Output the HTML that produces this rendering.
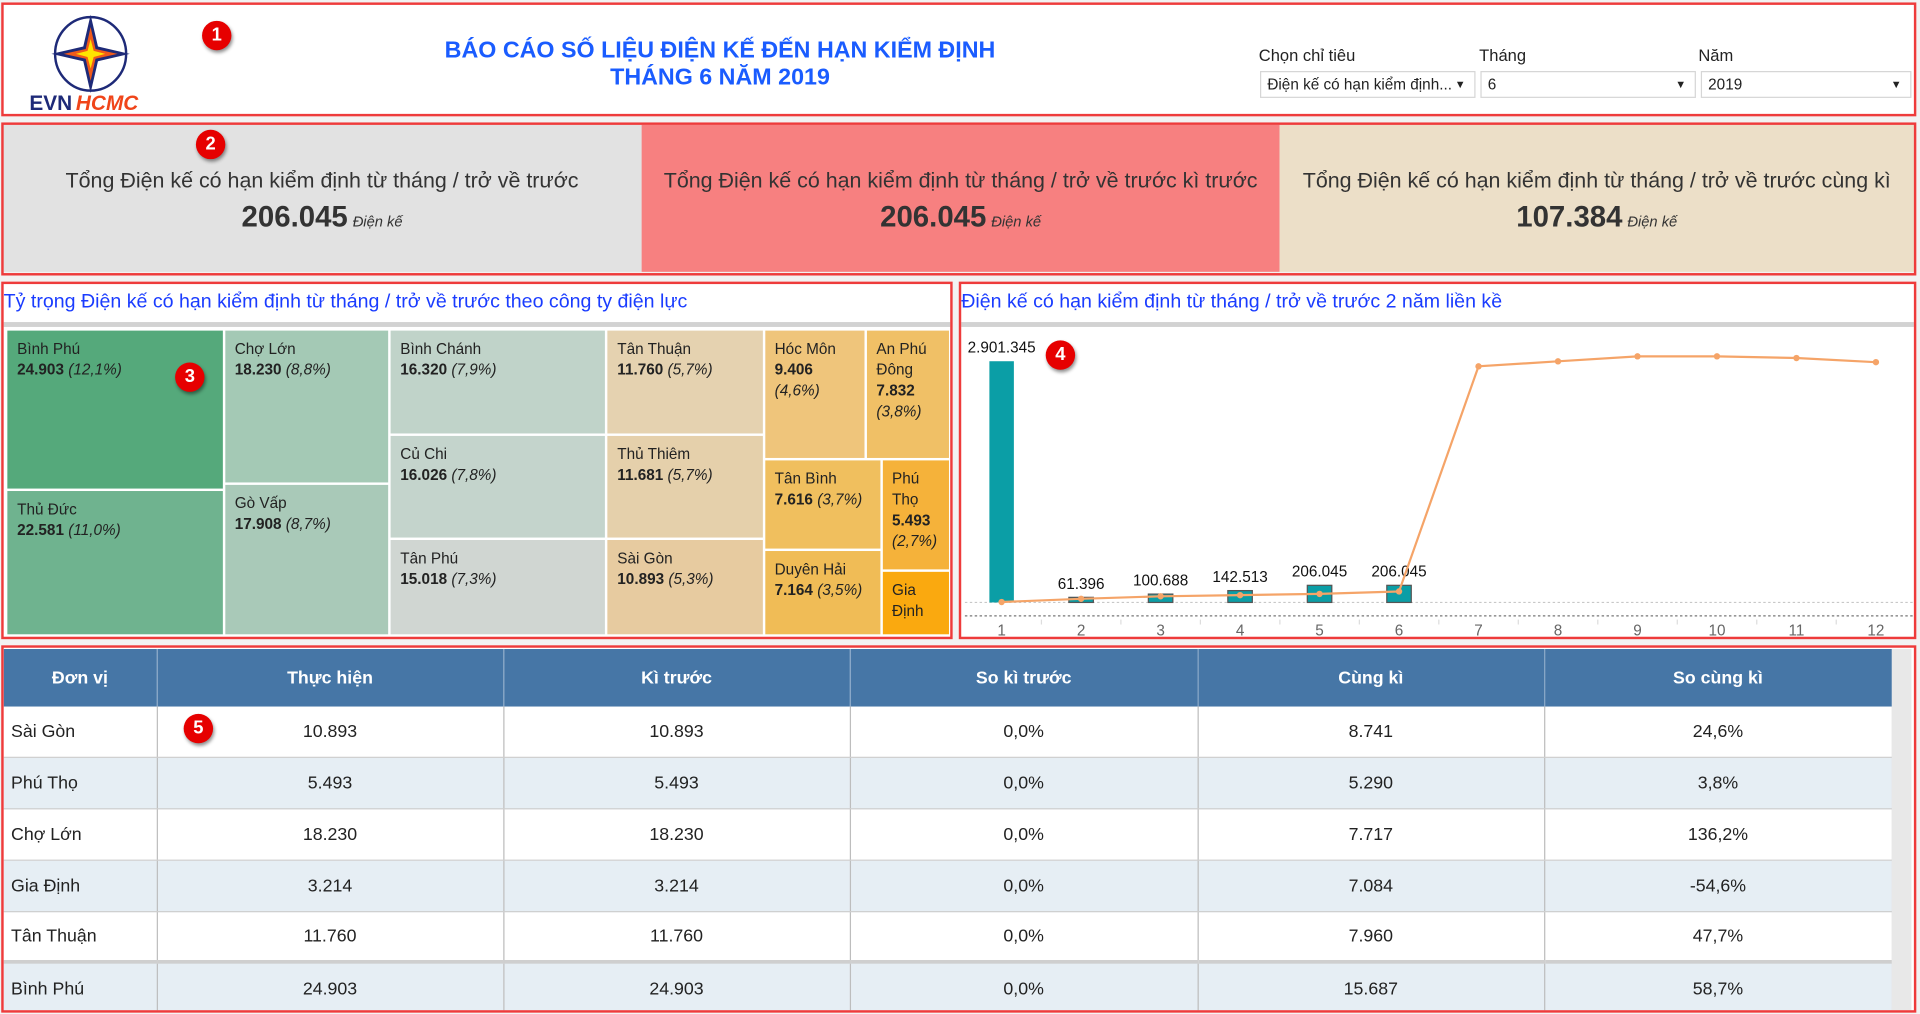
<!DOCTYPE html>
<html><head><meta charset="utf-8">
<style>
html,body{margin:0;padding:0;width:1920px;height:1014px;overflow:hidden;background:#fff;font-family:"Liberation Sans",Arial,sans-serif;}
#root{position:absolute;left:0;top:0;width:1568px;height:828px;transform:scale(1.22449);transform-origin:0 0;background:#f2f2f2;}
.abs{position:absolute;}
.redbox{position:absolute;border:2px solid #ee3b3b;box-sizing:border-box;}
.badge{position:absolute;width:24px;height:24px;border-radius:50%;background:#e60000;color:#fff;font-weight:bold;font-size:15px;text-align:center;line-height:24px;box-shadow:1px 2px 3px rgba(0,0,0,.45);z-index:5;}
.kpi{position:absolute;top:102px;height:120px;text-align:center;color:#333;}
.kpi .t{position:absolute;left:0;right:0;top:35px;font-size:17.5px;}
.kpi .v{position:absolute;left:0;right:0;top:62px;font-size:24px;font-weight:bold;color:#333;}
.kpi .v i{font-size:12px;font-weight:normal;margin-left:4px;}
.lbl{position:absolute;font-size:13.5px;color:#222;}
.dd{position:absolute;top:58px;height:22px;border:1px solid #d6d6d6;background:#fff;box-sizing:border-box;font-size:12.5px;line-height:20px;padding-left:5px;color:#222;}
.dd .ar{position:absolute;right:7px;top:0;font-size:9px;}
.ptitle{position:absolute;font-size:16px;color:#1a3cff;white-space:nowrap;}
.cell{position:absolute;box-sizing:border-box;padding:7px 0 0 8px;font-size:12.5px;line-height:17px;color:#222;overflow:hidden;}
#tblwrap{position:absolute;left:3px;top:530px;width:1542px;height:295px;overflow:hidden;}
table{border-collapse:collapse;table-layout:fixed;width:1542px;font-size:14.5px;}
th{background:#4676a6;color:#fff;font-weight:bold;height:47px;padding:0;border-right:1px solid #8aa8c8;font-size:14.5px;}
td{height:41px;padding:0;border-right:1px solid #bdbdbd;border-bottom:1px solid #cfcfcf;text-align:center;color:#222;}
td:first-child{text-align:left;padding-left:6px;}
tr.alt td{background:#e6eef4;}
</style></head>
<body>
<div id="root">
  <div class="abs" style="left:1px;top:2px;width:1564px;height:92px;background:#fff;"></div>
  <svg class="abs" style="left:20px;top:8px" width="110" height="90">
    <ellipse cx="54" cy="36" rx="29" ry="30" fill="none" stroke="#1e2a78" stroke-width="2"/>
    <polygon points="54,4 60,30 86,36 60,42 54,68 48,42 22,36 48,30" fill="#1e2a78"/>
    <polygon points="54,14 58,32 76,36 58,40 54,58 50,40 32,36 50,32" fill="#f05a1a"/>
    <polygon points="54,24 56.5,33.5 66,36 56.5,38.5 54,48 51.5,38.5 42,36 51.5,33.5" fill="#ffe400"/>
    <text x="4" y="82" font-family="Liberation Sans" font-weight="bold" font-size="17" fill="#1e2a78">EVN</text>
    <text x="42" y="82" font-family="Liberation Sans" font-weight="bold" font-style="italic" font-size="17" fill="#f0451a">HCMC</text>
  </svg>
  <div class="abs" style="left:300px;width:576px;top:31px;text-align:center;font-size:19px;font-weight:bold;color:#1a5cff;line-height:22px;">BÁO CÁO SỐ LIỆU ĐIỆN KẾ ĐẾN HẠN KIỂM ĐỊNH<br>THÁNG 6 NĂM 2019</div>
  <div class="lbl" style="left:1028px;top:38px;">Chọn chỉ tiêu</div>
  <div class="lbl" style="left:1208px;top:38px;">Tháng</div>
  <div class="lbl" style="left:1387px;top:38px;">Năm</div>
  <div class="dd" style="left:1029px;width:176px;">Điện kế có hạn kiểm định...<span class="ar">▼</span></div>
  <div class="dd" style="left:1209px;width:176px;">6<span class="ar">▼</span></div>
  <div class="dd" style="left:1389px;width:172px;">2019<span class="ar">▼</span></div>
  <div class="redbox" style="left:1px;top:2px;width:1564px;height:93px;"></div>

  <div class="kpi" style="left:2px;width:522px;background:#e2e2e2;"><div class="t">Tổng Điện kế có hạn kiểm định từ tháng / trở về trước</div><div class="v">206.045<i>Điện kế</i></div></div>
  <div class="kpi" style="left:524px;width:521px;background:#f78080;"><div class="t">Tổng Điện kế có hạn kiểm định từ tháng / trở về trước kì trước</div><div class="v">206.045<i>Điện kế</i></div></div>
  <div class="kpi" style="left:1045px;width:518px;background:#ecdfc8;"><div class="t">Tổng Điện kế có hạn kiểm định từ tháng / trở về trước cùng kì</div><div class="v">107.384<i>Điện kế</i></div></div>
  <div class="redbox" style="left:1px;top:100px;width:1564px;height:125px;"></div>

  <div class="abs" style="left:1px;top:230px;width:777px;height:292px;background:#fff;"></div>
  <div class="ptitle" style="left:3px;top:238px;">Tỷ trọng Điện kế có hạn kiểm định từ tháng / trở về trước theo công ty điện lực</div>
  <div class="abs" style="left:3px;top:263px;width:773px;height:4px;background:#d2d2d2;"></div>
  <div id="treemap" class="abs" style="left:6px;top:270px;width:771px;height:250px;background:#fff;"></div>
  <div class="redbox" style="left:1px;top:230px;width:777px;height:292px;"></div>

  <div class="abs" style="left:783px;top:230px;width:782px;height:292px;background:#fff;"></div>
  <div class="ptitle" style="left:785px;top:238px;">Điện kế có hạn kiểm định từ tháng / trở về trước 2 năm liền kề</div>
  <div class="abs" style="left:785px;top:263px;width:778px;height:4px;background:#d2d2d2;"></div>
  <svg id="chart" class="abs" style="left:0;top:0" width="1568" height="828"></svg>
  <div class="redbox" style="left:783px;top:230px;width:782px;height:292px;"></div>

  <div class="abs" style="left:1px;top:527px;width:1564px;height:300px;background:#fff;"></div>
  <div class="abs" style="left:1545px;top:530px;width:16px;height:295px;background:#e8e8e8;"></div>
  <div id="tblwrap">
  <table>
    <colgroup><col style="width:125px"><col style="width:283px"><col style="width:283px"><col style="width:284px"><col style="width:283px"><col style="width:284px"></colgroup>
    <thead><tr><th>Đơn vị</th><th>Thực hiện</th><th>Kì trước</th><th>So kì trước</th><th>Cùng kì</th><th>So cùng kì</th></tr></thead>
    <tbody>
      <tr><td>Sài Gòn</td><td>10.893</td><td>10.893</td><td>0,0%</td><td>8.741</td><td>24,6%</td></tr>
      <tr class="alt"><td>Phú Thọ</td><td>5.493</td><td>5.493</td><td>0,0%</td><td>5.290</td><td>3,8%</td></tr>
      <tr><td>Chợ Lớn</td><td>18.230</td><td>18.230</td><td>0,0%</td><td>7.717</td><td>136,2%</td></tr>
      <tr class="alt"><td>Gia Định</td><td>3.214</td><td>3.214</td><td>0,0%</td><td>7.084</td><td>-54,6%</td></tr>
      <tr><td style="border-bottom:3px solid #cfcfcf;height:39px">Tân Thuận</td><td style="border-bottom:3px solid #cfcfcf;height:39px">11.760</td><td style="border-bottom:3px solid #cfcfcf;height:39px">11.760</td><td style="border-bottom:3px solid #cfcfcf;height:39px">0,0%</td><td style="border-bottom:3px solid #cfcfcf;height:39px">7.960</td><td style="border-bottom:3px solid #cfcfcf;height:39px">47,7%</td></tr>
      <tr class="alt"><td>Bình Phú</td><td>24.903</td><td>24.903</td><td>0,0%</td><td>15.687</td><td>58,7%</td></tr>
    </tbody>
  </table>
  </div>
  <div class="redbox" style="left:1px;top:527px;width:1564px;height:300px;"></div>

  <div class="badge" style="left:165px;top:17px;">1</div>
  <div class="badge" style="left:160px;top:106px;">2</div>
  <div class="badge" style="left:143px;top:296px;">3</div>
  <div class="badge" style="left:854px;top:278px;">4</div>
  <div class="badge" style="left:150px;top:583px;">5</div>
</div>

<script>
var tmNames = ["Bình Phú","Thủ Đức","Chợ Lớn","Gò Vấp","Bình Chánh","Củ Chi","Tân Phú","Tân Thuận","Thủ Thiêm","Sài Gòn","Hóc Môn","An Phú Đông","Tân Bình","Duyên Hải","Phú Thọ","Gia Định"];
var tmValues = [24903,22581,18230,17908,16320,16026,15018,11760,11681,10893,9406,7832,7616,7164,5493,3214];
var tmColors = ["#55a97b","#6fb38f","#a4c9b5","#a9c9b8","#c0d3c9","#c4d4cc","#d0d6d2","#e5d2b0","#e5d0ab","#e7cba0","#efc57b","#f0c066","#f0bf5e","#f0bc56","#f5b23a","#faa90f"];
var tmLayout = {dir:"h",children:[{dir:"v",items:[0,1]},{dir:"v",items:[2,3]},{dir:"v",items:[4,5,6]},{dir:"v",items:[7,8,9]},
  {dir:"v",children:[{dir:"h",items:[10,11]},{dir:"h",children:[{dir:"v",items:[12,13]},{dir:"v",items:[14,15]}]}]}]};

var months = [1,2,3,4,5,6,7,8,9,10,11,12];
var barValues = [2901345,61396,100688,142513,206045,206045];
var barLabels = ["2.901.345","61.396","100.688","142.513","206.045","206.045"];
var lineValues = [5000,44000,74000,88000,103000,132000,2840000,2900000,2960000,2960000,2940000,2890000];

function fmt(v){return v.toString().replace(/\B(?=(\d{3})+(?!\d))/g,".");}
var total = tmValues.reduce(function(a,b){return a+b;},0);
function nodeSum(n){ if(n.items) return n.items.reduce(function(a,i){return a+tmValues[i];},0); return n.children.reduce(function(a,c){return a+nodeSum(c);},0); }
var tm = document.getElementById("treemap");
var TW=771, TH=250;
function place(n,x,y,w,h){
  var kids = n.items ? n.items.map(function(i){return {leaf:i};}) : n.children;
  var s = nodeSum(n), off=0;
  kids.forEach(function(k){
    var v = k.leaf!==undefined ? tmValues[k.leaf] : nodeSum(k);
    var f = v/s;
    var cx,cy,cw,ch;
    if(n.dir==="h"){cx=x+off*w;cy=y;cw=f*w;ch=h;} else {cx=x;cy=y+off*h;cw=w;ch=f*h;}
    off+=f;
    if(k.leaf!==undefined) drawCell(k.leaf,cx,cy,cw,ch); else place(k,cx,cy,cw,ch);
  });
}
function drawCell(i,x,y,w,h){
  var d=document.createElement("div");
  d.className="cell";
  
  
  d.style.left=x+"px";d.style.top=y+"px";d.style.width=(w-2)+"px";d.style.height=(h-2)+"px";
  d.style.background=tmColors[i];
  var pct=(tmValues[i]/total*100).toFixed(1).replace(".",",");
  var sep = w<90 ? "<br>" : " ";
  d.innerHTML=tmNames[i]+"<br><b>"+fmt(tmValues[i])+"</b>"+sep+"<i>("+pct+"%)</i>";
  if(h<60 && w<60) d.innerHTML=tmNames[i];
  tm.appendChild(d);
}
place(tmLayout,0,0,TW,TH);

var svg=document.getElementById("chart"), NS="http://www.w3.org/2000/svg";
var X0=818, X1=1532, Y0=492, YTOP=295, YMAXV=2901345;
function xs(m){return X0+(m-1)*(X1-X0)/11;}
function ys(v){return Y0-(v/YMAXV)*(Y0-YTOP);}
function el(t,a){var e=document.createElementNS(NS,t);for(var k in a)e.setAttribute(k,a[k]);svg.appendChild(e);return e;}
var g1=el("line",{x1:788,x2:1562,y1:Y0,y2:Y0,stroke:"#c8c8c8","stroke-dasharray":"2,2"});


var g2=el("line",{x1:788,x2:1562,y1:503,y2:503,stroke:"#777","stroke-dasharray":"2,2"});


months.forEach(function(m){
  var t=el("text",{x:xs(m),y:519,"text-anchor":"middle","font-size":"12.5","font-family":"Liberation Sans","fill":"#666"});
  t.textContent=m;
  
  
  if(m<12){var tk=el("line",{x1:xs(m)+32.5,x2:xs(m)+32.5,y1:506,y2:510,stroke:"#ddd"});
  
  }
});
barValues.forEach(function(v,i){
  var x=xs(months[i]), y=ys(v);
  var r=el("rect",{x:x-10,y:y,width:20,height:Y0-y,fill:"#0b9ea6",stroke:"#555","stroke-width":i>0?1:0});
  
  
  var t=el("text",{x:x,y:y-7,"text-anchor":"middle","font-size":"12.5","font-family":"Liberation Sans","fill":"#111"});
  t.textContent=barLabels[i];
  
  
});
var pts=lineValues.map(function(v,i){return xs(months[i])+","+ys(v);}).join(" ");
var pl=el("polyline",{points:pts,fill:"none",stroke:"#f5a468","stroke-width":1.8});


lineValues.forEach(function(v,i){
  var c=el("circle",{cx:xs(months[i]),cy:ys(v),r:2.6,fill:"#f5a468"});
  
  
});
</script>
</body></html>
